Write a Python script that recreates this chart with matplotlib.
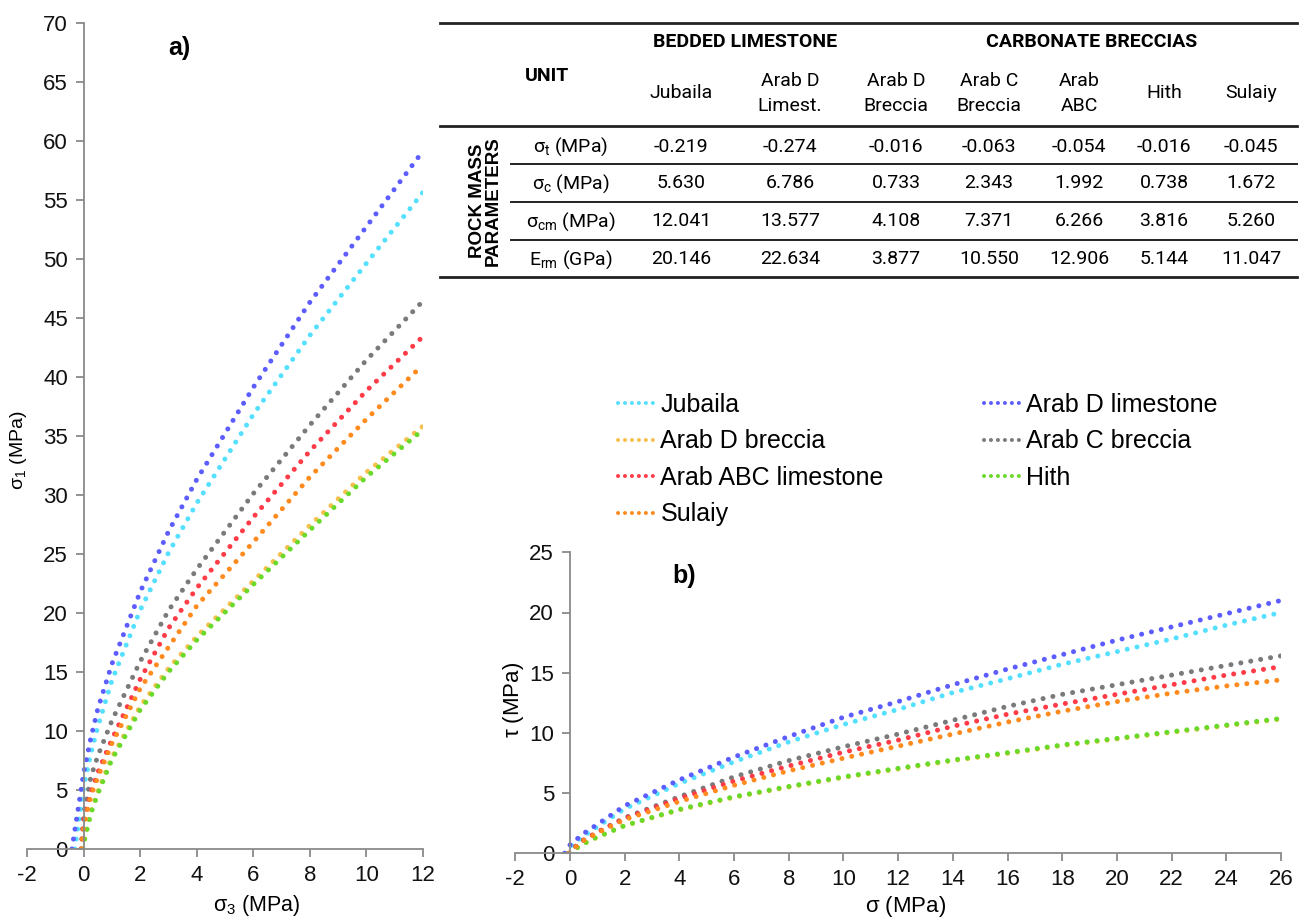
import matplotlib
matplotlib.use('Agg')
import matplotlib.pyplot as plt
from matplotlib.lines import Line2D

plt.rcParams['font.family'] = ['Liberation Sans', 'DejaVu Sans']
plt.rcParams['mathtext.default'] = 'regular'
plt.rcParams['axes.unicode_minus'] = False

# ---------------- data ----------------
series_names = ['Jubaila', 'Arab D limestone', 'Arab D breccia', 'Arab C breccia',
                'Arab ABC limestone', 'Hith', 'Sulaiy']
series_colors = ['#55e0ff', '#5c5cff', '#f6c04c', '#7a7a7a', '#ff3b47', '#6ada2a', '#ff8a1e']

# panel a) sigma1 vs sigma3 (MPa)
a_start = [-0.32, -0.42, -0.03, -0.10, -0.09, -0.03, -0.08]   # sigma3 where sigma1 = 0
a_sig3 = [0, 0.25, 0.5, 1, 2, 3, 4, 6, 8, 10, 12]
a_jubaila = [5.3, 8.1, 10.4, 14.3, 20.25, 25.1, 29.3, 36.8, 43.5, 49.6, 55.6]
a_arabD_lst = [6.5, 9.4, 11.9, 15.7, 21.8, 26.9, 31.3, 39.1, 46.3, 52.7, 59.1]
a_arabD_brc = [0.6, 3.2, 4.9, 7.8, 12.1, 15.3, 18.0, 22.7, 27.4, 31.9, 35.8]
a_arabC_brc = [3.0, 6.1, 7.9, 10.9, 15.9, 20.2, 23.7, 30.1, 35.9, 41.4, 46.4]
a_arabABC = [2.4, 4.8, 6.5, 9.3, 14.4, 18.7, 22.1, 28.1, 33.7, 38.8, 43.4]
a_hith = [0.5, 3.0, 4.7, 7.6, 11.8, 15.0, 17.7, 22.4, 27.0, 31.5, 35.5]
a_sulaiy = [2.0, 4.5, 6.1, 8.95, 13.6, 17.1, 20.6, 26.0, 31.5, 36.4, 41.0]

# panel b) tau vs sigma (MPa)
b_start = [-0.17, -0.20, -0.02, -0.05, -0.05, -0.02, -0.04]   # sigma where tau = 0
b_sig = [0, 0.5, 1, 2, 4, 6, 8, 10, 12, 14, 16, 18, 20, 22, 24, 26]
b_jubaila = [0.55, 1.45, 2.2, 3.7, 5.8, 7.6, 9.25, 10.7, 11.95, 13.35, 14.5, 15.7, 16.75, 17.8, 18.95, 20.0]
b_arabD_lst = [0.7, 1.65, 2.4, 3.95, 6.1, 8.0, 9.7, 11.3, 12.6, 14.0, 15.3, 16.5, 17.7, 18.8, 19.9, 21.0]
b_arabD_brc = [0.1, 0.8, 1.35, 2.3, 3.6, 4.65, 5.5, 6.3, 7.0, 7.7, 8.3, 8.95, 9.5, 10.05, 10.6, 11.15]
b_arabC_brc = [0.2, 1.1, 1.75, 2.95, 4.7, 6.35, 7.7, 8.85, 9.9, 11.05, 12.2, 13.2, 14.0, 14.8, 15.6, 16.4]
b_arabABC = [0.2, 1.1, 1.75, 2.9, 4.55, 6.0, 7.25, 8.4, 9.4, 10.55, 11.55, 12.4, 13.2, 14.0, 14.8, 15.5]
b_hith = [0.1, 0.8, 1.35, 2.3, 3.65, 4.7, 5.55, 6.35, 7.06, 7.75, 8.36, 9.0, 9.55, 10.1, 10.65, 11.2]
b_sulaiy = [0.15, 1.05, 1.7, 2.8, 4.3, 5.65, 6.85, 7.9, 8.9, 9.9, 10.9, 11.8, 12.6, 13.3, 13.9, 14.4]

# table
table_groups = ['BEDDED LIMESTONE', 'CARBONATE BRECCIAS']
table_units = ['Jubaila', 'Arab D\nLimest.', 'Arab D\nBreccia', 'Arab C\nBreccia', 'Arab\nABC', 'Hith', 'Sulaiy']
table_params = [r'$\sigma_t$ (MPa)', r'$\sigma_c$ (MPa)', r'$\sigma_{cm}$ (MPa)', r'$E_{rm}$ (GPa)']
sigma_t = [-0.219, -0.274, -0.016, -0.063, -0.054, -0.016, -0.045]
sigma_c = [5.630, 6.786, 0.733, 2.343, 1.992, 0.738, 1.672]
sigma_cm = [12.041, 13.577, 4.108, 7.371, 6.266, 3.816, 5.260]
E_rm = [20.146, 22.634, 3.877, 10.550, 12.906, 5.144, 11.047]

a_series = [a_jubaila, a_arabD_lst, a_arabD_brc, a_arabC_brc, a_arabABC, a_hith, a_sulaiy]
b_series = [b_jubaila, b_arabD_lst, b_arabD_brc, b_arabC_brc, b_arabABC, b_hith, b_sulaiy]

# ---------------- figure ----------------
W, H = 1304, 922
fig = plt.figure(figsize=(W / 100, H / 100), dpi=100)


def fx(px):
    return px / W


def fy(py):
    return 1 - py / H


AX_COL = '#8a8a8a'
DOT = dict(linestyle=(0, (0.01, 2.0)), dash_capstyle='round', linewidth=3.6)


def style_axes(ax, fs):
    for s in ['top', 'right']:
        ax.spines[s].set_visible(False)
    ax.spines['left'].set_position(('data', 0))
    ax.spines['bottom'].set_position(('data', 0))
    for s in ['left', 'bottom']:
        ax.spines[s].set_color(AX_COL)
        ax.spines[s].set_linewidth(1.3)
    ax.tick_params(axis='both', direction='out', length=5.5, width=1.3, color=AX_COL,
                   labelsize=fs, pad=6, labelcolor='#111111')


# panel a
axa = fig.add_axes([fx(27.3), fy(849), fx(422.7) - fx(27.3), (849 - 22.7) / H])
for name, col, st, ys in zip(series_names, series_colors, a_start, a_series):
    axa.plot([st] + a_sig3, [0] + ys, color=col, **DOT)
axa.set_xlim(-2, 12)
axa.set_ylim(0, 70)
axa.set_xticks(range(-2, 13, 2))
axa.set_yticks(range(0, 71, 5))
style_axes(axa, 16)
axa.set_xlabel(r'$\sigma_3$ (MPa)', fontsize=15.5)
axa.xaxis.set_label_coords(0.58, -0.053)
axa.set_ylabel(r'$\sigma_1$ (MPa)', fontsize=14)
axa.yaxis.set_label_coords(0.004, 0.483)
fig.text(fx(179), fy(48), 'a)', fontsize=18, fontweight='bold', ha='center', va='center')

# panel b
axb = fig.add_axes([fx(515.3), fy(853.3), fx(1281) - fx(515.3), (853.3 - 552.3) / H])
for name, col, st, ys in zip(series_names, series_colors, b_start, b_series):
    axb.plot([st] + b_sig, [0] + ys, color=col, **DOT)
axb.set_xlim(-2, 26)
axb.set_ylim(0, 25)
axb.set_xticks(range(-2, 27, 2))
axb.set_yticks(range(0, 26, 5))
style_axes(axb, 16)
axb.set_xlabel(r'$\sigma$ (MPa)', fontsize=16)
axb.xaxis.set_label_coords(0.509, -0.135)
axb.set_ylabel(r'$\tau$ (MPa)', fontsize=16)
axb.yaxis.set_label_coords(0.014, 0.51)
fig.text(fx(684), fy(576), 'b)', fontsize=18, fontweight='bold', ha='center', va='center')

# legend
order = [0, 2, 4, 6, 1, 3, 5]
handles = [Line2D([], [], color=series_colors[i], linestyle=(0, (0.01, 1.72)),
                  dash_capstyle='round', linewidth=2.9) for i in order]
labels = [series_names[i] for i in order]
fig.legend(handles, labels, ncol=2, loc='upper left', bbox_to_anchor=(fx(618), fy(393)),
           frameon=False, fontsize=18, handlelength=1.5, handletextpad=0.2,
           columnspacing=4.0, labelspacing=0.5, borderaxespad=0, borderpad=0)

# table
TF = ['Roboto', 'DejaVu Sans']
TS = 14
col_x = [681, 790, 896, 989, 1079, 1164, 1251]
row_y = [146.7, 183.5, 221.5, 259.5]
fig.text(fx(745), fy(42), table_groups[0], family=TF, fontsize=TS, fontweight='bold',
         ha='center', va='center')
fig.text(fx(1092), fy(42), table_groups[1], family=TF, fontsize=TS, fontweight='bold',
         ha='center', va='center')
fig.text(fx(525), fy(76), 'UNIT', family=TF, fontsize=TS, fontweight='bold', ha='left', va='center')
for x, u in zip(col_x, table_units):
    fig.text(fx(x), fy(93.5), u, family=TF, fontsize=TS, ha='center', va='center',
             linespacing=1.45)
for y, p, vals in zip(row_y, table_params, [sigma_t, sigma_c, sigma_cm, E_rm]):
    fig.text(fx(571), fy(y), p, family=TF, fontsize=TS, ha='center', va='center')
    for x, v in zip(col_x, vals):
        fig.text(fx(x), fy(y), f'{v:.3f}', family=TF, fontsize=TS, ha='center', va='center')
fig.text(fx(485), fy(201), 'ROCK MASS\nPARAMETERS', fontsize=13.5, fontweight='bold',
         rotation=90, ha='center', va='center', linespacing=0.92, multialignment='center')

for y, x0, lw in [(23.5, 440, 2.0), (126.5, 440, 2.0), (164, 511, 1.4), (202, 511, 1.4),
                  (240, 511, 1.4), (277.5, 440, 2.0)]:
    fig.add_artist(Line2D([fx(x0), fx(1297)], [fy(y), fy(y)], color='#222222', lw=lw,
                          transform=fig.transFigure))

fig.savefig('out.png', dpi=100)
